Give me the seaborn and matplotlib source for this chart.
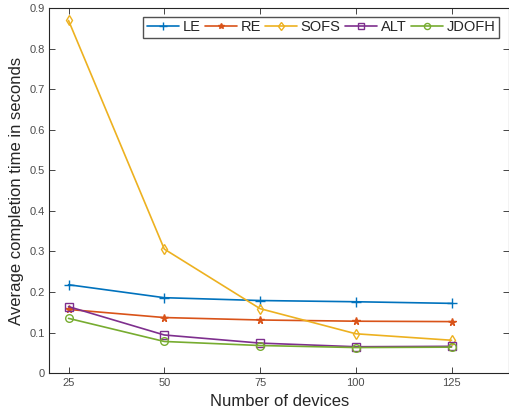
import numpy as np
import pandas as pd
import seaborn as sns
import matplotlib.pyplot as plt

#Data
devices = [25, 50, 75, 100, 125]
le = [0.218, 0.186, 0.179, 0.176, 0.172]
re = [0.157, 0.137, 0.131, 0.128, 0.127]
sofs = [0.870, 0.306, 0.159, 0.097, 0.081]
alt = [0.164, 0.094, 0.074, 0.065, 0.066]
jdofh = [0.135, 0.078, 0.068, 0.063, 0.064]

methods = ['LE', 'RE', 'SOFS', 'ALT', 'JDOFH']
series = [le, re, sofs, alt, jdofh]
colors = ['#0072BD', '#D95319', '#EDB120', '#7E2F8E', '#77AC30']
markers = ['+', '*', 'd', 's', 'o']

sns.set_style('ticks')
plt.rcParams['font.family'] = ['Liberation Sans', 'DejaVu Sans']
plt.rcParams['xtick.direction'] = 'in'
plt.rcParams['ytick.direction'] = 'in'

fig, ax = plt.subplots(figsize=(5.09, 4.15), dpi=100)
fig.subplots_adjust(left=0.097, right=1.0, top=0.98, bottom=0.101)

#One lineplot per method (mixed marker kinds)
for name, vals, c, m in zip(methods, series, colors, markers):
    df = pd.DataFrame({'devices': devices, 'time': vals})
    sns.lineplot(data=df, x='devices', y='time', color=c, marker=m,
                 linewidth=1.2, markersize=5.5 if m != '+' else 6.5,
                 markerfacecolor='none' if m != '*' else c, markeredgecolor=c,
                 markeredgewidth=1.0, label=name, ax=ax)

ax.set_xlim(20, 140)
ax.set_ylim(0, 0.9)
ax.set_xticks(devices)
ax.set_yticks(np.arange(0, 0.91, 0.1))
ax.set_yticklabels(['0'] + [f'{v:.1f}' for v in np.arange(0.1, 0.91, 0.1)])
ax.tick_params(labelsize=8, labelcolor='#4d4d4d', colors='#262626',
               length=4, width=0.6, top=True, right=True)
for s in ax.spines.values():
    s.set_linewidth(0.8)
    s.set_color('#262626')
ax.set_xlabel('Number of devices', fontsize=12, color='#262626')
ax.set_ylabel('Average completion time in seconds', fontsize=12, color='#262626')

ax.legend(ncol=5, loc='upper right', bbox_to_anchor=(0.985, 0.985),
          fontsize=10.5, frameon=True, fancybox=False, edgecolor='#262626',
          handlelength=2.2, handletextpad=0.25, columnspacing=0.3,
          borderpad=0.25, borderaxespad=0.2, markerscale=0.8)

plt.savefig('out.png')
